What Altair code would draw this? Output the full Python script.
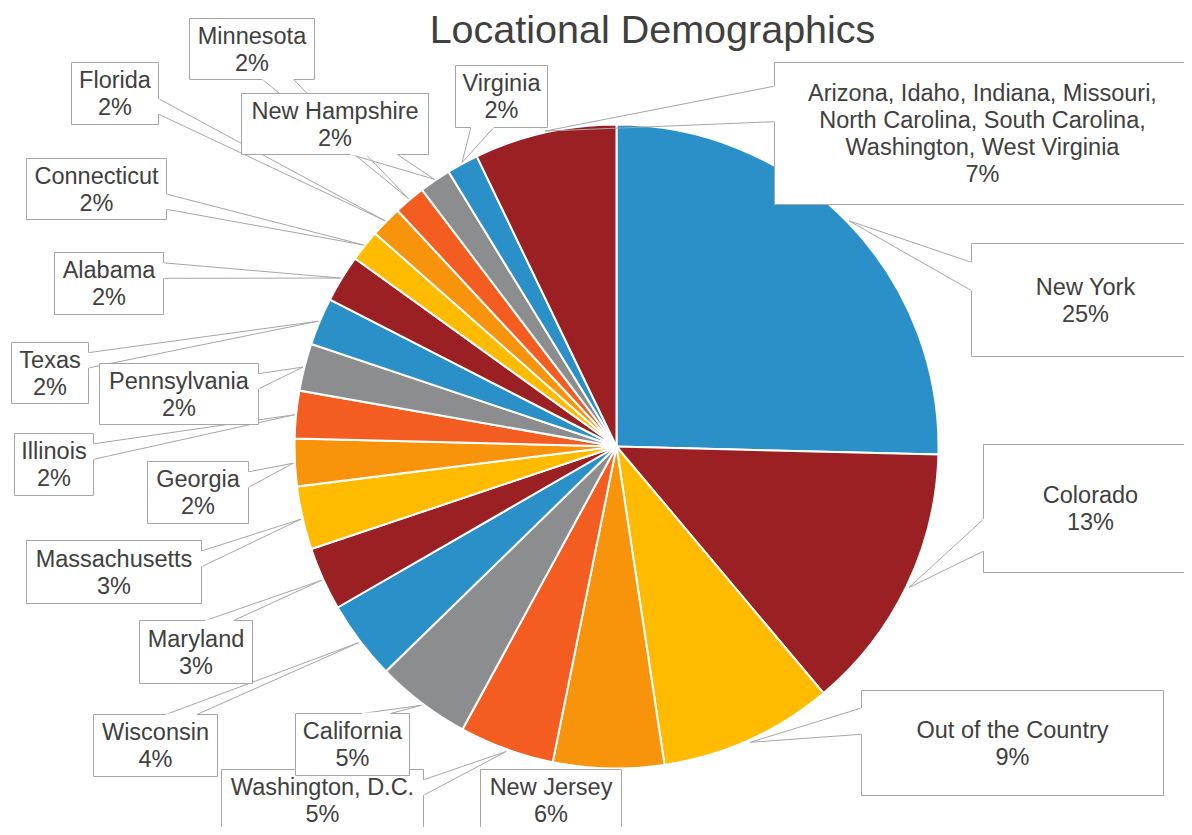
import math
import textwrap
import altair as alt
import pandas as pd

# ---------------- data ----------------
locations = [
    "New York", "Colorado", "Out of the Country", "New Jersey", "Washington, D.C.",
    "California", "Wisconsin", "Maryland", "Massachusetts", "Georgia", "Illinois",
    "Pennsylvania", "Texas", "Alabama", "Connecticut", "Florida", "Minnesota",
    "New Hampshire", "Virginia",
    "Arizona, Idaho, Indiana, Missouri, North Carolina, South Carolina, Washington, West Virginia",
]
counts = [32, 17, 11, 7, 6, 6, 5, 4, 4, 3, 3, 3, 3, 3, 2, 2, 2, 2, 2, 9]
title_text = "Locational Demographics"

# ---------------- style / layout (not data) ----------------
palette = ["#2B90C8", "#9B2023", "#FFBB00", "#F8930C", "#F45D21", "#8B8D8E"]
FONT = "Liberation Sans"
TEXT_COLOR = "#404040"
LINE_COLOR = "#A6A6A6"
FONT_SIZE = 23.5
LINE_H = 27
W, H = 1176, 819            # canvas (page coords 8..1184, 8..827)
Y_SHIFT = -4                # pie + callouts nudged up so the bottom labels fit
CX, CY, R = 616.5, 450.5 + Y_SHIFT, 322   # pie centre / radius in page coords
TIP_R = 324                 # callout tip radius

# callout boxes (x0, y0, x1, y1) in page coords, one per slice, in slice order
box_layout = [
    (971, 247, 1199, 360),
    (983, 448, 1197, 576),
    (861, 694, 1163, 799),
    (480, 773, 621, 835),
    (221, 773, 423, 835),
    (295, 717, 409, 779),
    (93, 718, 217, 780),
    (139, 624, 252, 687),
    (26, 544, 201, 607),
    (147, 465, 248, 527),
    (14, 437, 93, 499),
    (99, 367, 258, 428),
    (11, 346, 88, 407),
    (54, 256, 163, 318),
    (26, 162, 166, 223),
    (71, 66, 158, 128),
    (189, 22, 314, 83),
    (241, 97, 428, 158),
    (455, 69, 547, 131),
    (774, 66, 1190, 208),
]

# ---------------- derived tables ----------------
total = sum(counts)
slices = pd.DataFrame({"idx": list(range(len(counts))), "location": locations, "count": counts})

box_rows, line_rows, gap_rows = [], [], []
cum = 0
for i, (name, c) in enumerate(zip(locations, counts)):
    mid = (cum + c / 2) / total * 2 * math.pi
    cum += c
    tx = CX + TIP_R * math.sin(mid)
    ty = CY - TIP_R * math.cos(mid)
    x0, y0, x1, y1 = box_layout[i]
    y0, y1 = y0 + Y_SHIFT, y1 + Y_SHIFT
    w, h = x1 - x0, y1 - y0
    hc, vc = (x0 + x1) / 2, (y0 + y1) / 2
    text_lines = textwrap.wrap(name, width=34) + [f"{round(100 * c / total)}%"]
    box_rows.append({
        "x0": x0, "y0": y0, "x1": x1, "y1": y1, "cx": hc,
        "ty": vc - (len(text_lines) - 1) * LINE_H / 2,
        "label": "\n".join(text_lines),
    })
    if x0 <= tx <= x1 and y0 <= ty <= y1:
        continue
    dxp, dyp = tx - hc, ty - vc
    if abs(dyp) > abs(dxp * h / w):
        ey = y0 if dyp < 0 else y1
        g1, g2 = (7, 10) if dxp > 0 else (2, 5)
        b1, b2 = (x0 + w * g1 / 12, ey), (x0 + w * g2 / 12, ey)
    else:
        ex = x0 if dxp < 0 else x1
        g1, g2 = (7, 10) if dyp > 0 else (2, 5)
        b1, b2 = (ex, y0 + h * g1 / 12), (ex, y0 + h * g2 / 12)
    for b in (b1, b2):
        line_rows.append({"x": b[0], "y": b[1], "x2": tx, "y2": ty})
    gap_rows.append({"x": b1[0], "y": b1[1], "x2": b2[0], "y2": b2[1]})

boxes = pd.DataFrame(box_rows)
lines = pd.DataFrame(line_rows)
gaps = pd.DataFrame(gap_rows)

XS = alt.Scale(domain=[7.5, 7.5 + W], range=[0, W], nice=False, zero=False)
YS = alt.Scale(domain=[7.5, 7.5 + H], range=[0, H], nice=False, zero=False)

pie = alt.Chart(slices).mark_arc(radius=R, stroke="white", strokeWidth=2).encode(
    theta=alt.Theta("count:Q", stack=True),
    order=alt.Order("idx:Q", sort="ascending"),
    color=alt.Color("idx:N", scale=alt.Scale(domain=list(range(len(counts))), range=palette), legend=None),
    x=alt.value(CX - 8),
    y=alt.value(CY - 8),
    tooltip=["location:N", "count:Q"],
)

pointer = alt.Chart(lines).mark_rule(color=LINE_COLOR, strokeWidth=1).encode(
    x=alt.X("x:Q", scale=XS, axis=None),
    y=alt.Y("y:Q", scale=YS, axis=None),
    x2="x2:Q",
    y2="y2:Q",
)

rects = alt.Chart(boxes).mark_rect(fill="white", stroke=LINE_COLOR, strokeWidth=1).encode(
    x=alt.X("x0:Q", scale=XS, axis=None),
    x2="x1:Q",
    y=alt.Y("y0:Q", scale=YS, axis=None),
    y2="y1:Q",
)

gap = alt.Chart(gaps).mark_rule(color="white", strokeWidth=2).encode(
    x=alt.X("x:Q", scale=XS, axis=None),
    y=alt.Y("y:Q", scale=YS, axis=None),
    x2="x2:Q",
    y2="y2:Q",
)

texts = alt.Chart(boxes).mark_text(
    font=FONT, fontSize=FONT_SIZE, color=TEXT_COLOR, lineBreak="\n", lineHeight=LINE_H,
    align="center", baseline="middle", dy=1,
).encode(
    x=alt.X("cx:Q", scale=XS, axis=None),
    y=alt.Y("ty:Q", scale=YS, axis=None),
    text="label:N",
)

title = alt.Chart(pd.DataFrame({"t": [title_text]})).mark_text(
    font=FONT, fontSize=39.5, color=TEXT_COLOR, align="center", baseline="alphabetic",
).encode(
    x=alt.value(652.5 - 8),
    y=alt.value(43 - 8),
    text="t:N",
)

chart = alt.layer(pie, pointer, rects, gap, texts, title).properties(
    width=W, height=H,
    autosize=alt.AutoSizeParams(type="none"),
    padding=0,
    background="white",
).configure_view(stroke=None)

chart.save("out.html", embed_options={"renderer": "svg", "actions": False})
